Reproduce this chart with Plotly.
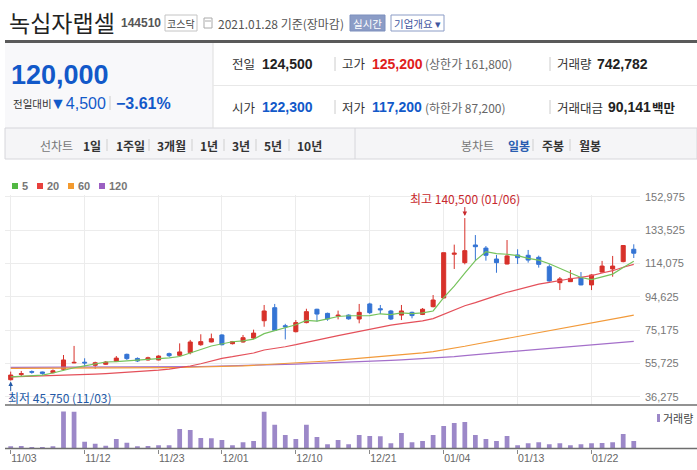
import plotly.graph_objects as go

# ---------------- data ----------------
dates = ["11/03","11/04","11/05","11/06","11/09","11/10","11/11","11/12","11/13","11/16",
         "11/17","11/18","11/19","11/20","11/23","11/24","11/25","11/26","11/27","11/30",
         "12/01","12/02","12/03","12/04","12/07","12/08","12/09","12/10","12/11","12/14",
         "12/15","12/16","12/17","12/18","12/21","12/22","12/23","12/24","12/28","12/29",
         "12/30","01/04","01/05","01/06","01/07","01/08","01/11","01/12","01/13","01/14",
         "01/15","01/18","01/19","01/20","01/21","01/22","01/25","01/26","01/27","01/28"]

open_ = [46200, 49300, 50900, 50700, 50300, 52300, 56000, 56400, 54600, 55200,
         56900, 61000, 58600, 57700, 57700, 61400, 60400, 62000, 66600, 68200,
         72300, 67200, 68200, 70500, 80600, 88200, 77700, 74200, 79500, 87300,
         84900, 83300, 83900, 81600, 90400, 87600, 86300, 83900, 85500, 84300,
         88800, 93900, 119400, 114500, 124800, 123000, 116600, 113700, 119000, 118800,
         117600, 112100, 102800, 103400, 105900, 101500, 109000, 110800, 115100, 122300]
close = [48900, 49700, 50600, 49900, 51400, 57700, 56300, 56000, 56100, 56500,
         58800, 58500, 57100, 59000, 60000, 60200, 62400, 68200, 68400, 70100,
         66600, 68400, 70700, 73400, 86300, 75000, 77100, 79500, 85900, 84500,
         81600, 83800, 81700, 85500, 85300, 87000, 81600, 86300, 83600, 87300,
         92700, 120300, 120000, 121500, 123800, 118800, 114500, 118400, 117400, 116000,
         113500, 103800, 105000, 105300, 101500, 107300, 112500, 112500, 124500, 120000]
high = [50900, 51300, 51600, 50900, 52200, 60600, 65900, 58700, 56700, 57100,
        60000, 61400, 59200, 59600, 60400, 62000, 67400, 69400, 72700, 73100,
        72700, 68800, 72300, 75400, 89800, 90400, 78800, 81000, 87600, 87600,
        85300, 86500, 84300, 90400, 91100, 89800, 86900, 89800, 85900, 88000,
        95600, 120300, 125000, 140500, 130600, 124200, 119000, 127700, 122300, 121900,
        118600, 113500, 106100, 110200, 109000, 107700, 115500, 118400, 124700, 125200]
low = [45750, 48000, 49700, 49100, 49900, 51700, 55800, 53800, 52600, 54800,
       56500, 57700, 56500, 57300, 57500, 59400, 60000, 61000, 66000, 68000,
       66200, 66800, 67800, 69900, 77100, 74600, 69700, 73800, 79100, 80100,
       80600, 81400, 81200, 79100, 84500, 84500, 81000, 81000, 82000, 83900,
       88400, 93500, 110800, 113500, 115500, 115650, 108600, 113500, 113700, 114500,
       111600, 103400, 98500, 103200, 101300, 98500, 108600, 106300, 114700, 117200]

volume = [236000, 243000, 135000, 140000, 236000, 3714000, 3700000, 675000, 473000, 270000,
          945000, 574000, 236000, 240000, 338000, 335000, 1958000, 1857000, 1047000, 1040000,
          844000, 338000, 641000, 743000, 3710000, 2397000, 1350000, 945000, 2390000, 1148000,
          439000, 844000, 439000, 1350000, 1249000, 1245000, 540000, 1553000, 641000, 743000,
          1350000, 2262000, 2566000, 2667000, 1350000, 945000, 743000, 1249000, 338000, 540000,
          641000, 439000, 540000, 338000, 439000, 540000, 545000, 641000, 1452000, 742782]

ma5 = [47800, 48100, 48500, 48900, 50100, 51860, 53180, 54260, 55500, 56520,
       56740, 57180, 57400, 57980, 58680, 58960, 59740, 61960, 63840, 65860,
       67140, 68340, 68840, 69840, 73080, 74760, 76500, 78260, 80760, 80400,
       81720, 83060, 83500, 83420, 83580, 84660, 84220, 85140, 84760, 85160,
       86300, 94040, 100780, 108360, 115660, 120880, 119720, 119400, 118580, 117020,
       115960, 113820, 111140, 108720, 105820, 104580, 106320, 107820, 111660, 115360]
ma20 = [47900, 48050, 48200, 48350, 48500, 48700, 48900, 49150, 49400, 49700,
        50050, 50400, 50800, 51250, 51750, 52400, 53200, 54200, 55500, 57000,
        58680, 59610, 60620, 61790, 63540, 64400, 65440, 66620, 68110, 69510,
        70650, 71910, 73140, 74470, 75730, 77070, 78030, 78940, 79700, 80560,
        81860, 84460, 86920, 89330, 91200, 93390, 95260, 97210, 98780, 100360,
        101950, 102950, 104120, 105110, 105920, 106930, 108480, 109790, 111830, 113470]
ma60 = [52800, 52800, 52800, 52800, 52800, 52800, 52800, 52800, 52850, 52900,
        52900, 52950, 53000, 53000, 53100, 53200, 53300, 53400, 53500, 53700,
        53900, 54100, 54300, 54600, 54900, 55200, 55500, 55900, 56300, 56700,
        57100, 57600, 58100, 58600, 59100, 59600, 60100, 60700, 61300, 61900,
        62600, 63500, 64600, 65700, 66900, 68000, 69100, 70300, 71400, 72500,
        73600, 74800, 75900, 77000, 78100, 79300, 80400, 81500, 82700, 83900]
ma120 = [53400, 53400, 53400, 53400, 53400, 53400, 53400, 53400, 53450, 53500,
         53500, 53500, 53550, 53600, 53600, 53650, 53700, 53800, 53900, 54000,
         54100, 54300, 54400, 54600, 54800, 54900, 55100, 55300, 55500, 55700,
         55900, 56100, 56300, 56600, 56900, 57200, 57500, 57800, 58100, 58400,
         58800, 59200, 59700, 60300, 60800, 61300, 61800, 62400, 62900, 63400,
         63900, 64400, 65000, 65500, 66000, 66500, 67000, 67500, 68100, 68600]

price_ticks = [36275, 55725, 75175, 94625, 114075, 133525, 152975]
date_tick_idx = [0, 7, 14, 20, 27, 34, 41, 48, 55]
ma_names = ["5", "20", "60", "120"]

# ---------------- style ----------------
W, H = 697, 470
FONT = "Liberation Sans, Noto Sans CJK KR, sans-serif"
KFONT = "Noto Sans CJK KR, Liberation Sans, sans-serif"
RED = "#d7312a"
BLUE = "#3474d4"
VOLC = "#9c88c8"
MA_COLORS = ["#76c35c", "#e4505a", "#f29a3a", "#a46fca"]
LEG_COLORS = ["#52b843", "#e8403c", "#f39a2e", "#9b5fc2"]
NUMBLUE = "#1259c9"

def px(x):
    return x / W

def py(y):
    return 1 - y / H

xs = list(range(len(dates)))

fig = go.Figure()
fig.add_trace(go.Bar(x=xs, y=volume, xaxis="x2", yaxis="y2", width=0.45,
                     marker=dict(color=VOLC, line=dict(width=0)), hoverinfo="skip"))
for name, vals, col in zip(ma_names[::-1], [ma120, ma60, ma20, ma5], MA_COLORS[::-1]):
    fig.add_trace(go.Scatter(x=xs, y=vals, mode="lines", name=name,
                             line=dict(color=col, width=1.2), hoverinfo="skip"))
fig.add_trace(go.Candlestick(x=xs, open=open_, high=high, low=low, close=close,
                             increasing=dict(line=dict(color=RED, width=1), fillcolor=RED),
                             decreasing=dict(line=dict(color=BLUE, width=1), fillcolor=BLUE),
                             whiskerwidth=0, hoverinfo="skip"))

shapes = []
ann = []

def rect(x0, y0, x1, y1, fill=None, line=None, lw=1):
    shapes.append(dict(type="rect", xref="paper", yref="paper", x0=px(x0), x1=px(x1),
                       y0=py(y1), y1=py(y0), fillcolor=fill or "rgba(0,0,0,0)",
                       line=dict(color=line or "rgba(0,0,0,0)", width=lw if line else 0),
                       layer="below"))

def hline(x0, x1, y, color, w=1):
    shapes.append(dict(type="line", xref="paper", yref="paper", x0=px(x0), x1=px(x1),
                       y0=py(y), y1=py(y), line=dict(color=color, width=w)))

def vline(x, y0, y1, color, w=1):
    shapes.append(dict(type="line", xref="paper", yref="paper", x0=px(x), x1=px(x),
                       y0=py(y0), y1=py(y1), line=dict(color=color, width=w)))

def txt(x, y, s, size, color, bold=False, anchor="left", family=KFONT):
    ann.append(dict(x=px(x), y=py(y), xref="paper", yref="paper", showarrow=False,
                    text=("<b>%s</b>" % s) if bold else s, xanchor=anchor, yanchor="middle",
                    font=dict(size=size, color=color, family=family), borderpad=0))

# ---- header ----
txt(8, 22, "녹십자랩셀", 23, "#222")
txt(120, 23, "144510", 12, "#555", bold=True, family=FONT)
rect(165, 15, 197, 31, fill="#fff", line="#c4c4c4")
txt(181, 23, "코스닥", 10, "#444", anchor="center")
rect(204, 18, 212, 28, fill="#fff", line="#aaa")
hline(205, 211, 21, "#aaa")
txt(217, 23, "2021.01.28 기준(장마감)", 12, "#555")
rect(350, 15, 385, 31, fill="#8b9cc6", line="#7d8fbd")
txt(367.5, 23, "실시간", 10.5, "#fff", anchor="center")
rect(391, 15, 444, 31, fill="#fff", line="#8b9cc6")
txt(417.5, 23, "기업개요 ▾", 10.5, "#3f56a0", anchor="center")

rect(5, 40, 697, 43, fill="#5a5a5a")
rect(5, 43, 213, 128, fill="#f8f8fa")
vline(213, 43, 128, "#dedede")
hline(213, 697, 85.5, "#e8e8e8")

txt(10, 75, "120,000", 27, NUMBLUE, bold=True, family=FONT)
txt(12, 103, "전일대비", 10.5, "#333")
txt(49, 103, "▼4,500", 16, NUMBLUE, family=FONT)
vline(110, 96, 110, "#cccccc")
txt(115, 103, "−3.61%", 16, NUMBLUE, bold=True, family=FONT)

for yy, items in [(64, [("전일", "124,500", "#222", None),
                        ("고가", "125,200", "#e0201c", "(상한가 161,800)"),
                        ("거래량", "742,782", "#222", None)]),
                  (107, [("시가", "122,300", NUMBLUE, None),
                         ("저가", "117,200", NUMBLUE, "(하한가 87,200)"),
                         ("거래대금", "90,141", "#222", "백만")])]:
    xl = [231, 341, 556]
    xv = [261, 371, 596]
    for k, (lab, val, col, extra) in enumerate(items):
        txt(xl[k], yy, lab, 12.5, "#333")
        vx = xv[k] if lab != "거래대금" else 607
        txt(vx, yy, val, 14, col, bold=True, family=FONT)
        if extra:
            if lab == "거래대금":
                txt(651, yy, extra, 12.5, "#222", bold=True)
            else:
                txt(424, yy, extra, 12, "#666")
    vline(335, yy - 7, yy + 7, "#cccccc")
    vline(550, yy - 7, yy + 7, "#cccccc")

# ---- tab bar ----
rect(5, 128, 697, 159, fill="#f5f5f7", line="#d6d6db")
vline(355, 128, 159, "#d6d6db")
txt(39, 145, "선차트", 12, "#777")
tabs = [("1일", 82), ("1주일", 115), ("3개월", 156), ("1년", 199), ("3년", 231), ("5년", 263), ("10년", 296)]
for k, (s, x) in enumerate(tabs):
    txt(x, 145, s, 12, "#333", bold=True)
for x in [107, 149, 192, 224, 256, 289, 533, 570]:
    vline(x, 139, 151, "#cfcfcf")
txt(460, 145, "봉차트", 12, "#777")
txt(507, 145, "일봉", 12, "#2a5db0", bold=True)
txt(541, 145, "주봉", 12, "#333", bold=True)
txt(578, 145, "월봉", 12, "#333", bold=True)

# ---- MA legend ----
for name, col, x0 in zip(ma_names, LEG_COLORS, [12, 37, 68, 99]):
    rect(x0, 183, x0 + 6, 189, fill=col)
    txt(x0 + 9, 186, name, 11, "#777", bold=True, family=FONT)

# ---- panel lines ----
hline(5, 697, 405, "#6e6e6e", 1.3)
hline(5, 697, 448.5, "#6e6e6e", 1.3)
rect(657, 414, 660, 422, fill=VOLC)
txt(662, 418, "거래량", 11, "#444")

# ---- high / low marks ----
hi_i = high.index(max(high))
lo_i = low.index(min(low))
ann.append(dict(x=hi_i, y=high[hi_i], xref="x", yref="y", showarrow=True,
                text="최고 %s (%s)" % (format(high[hi_i], ","), dates[hi_i]),
                ax=0, ay=-20, arrowhead=2, arrowsize=0.9, arrowwidth=1, arrowcolor="#c8282d",
                standoff=2, font=dict(size=12, color="#c8282d", family=KFONT), borderpad=0))
ann.append(dict(x=lo_i, y=low[lo_i], xref="x", yref="y", showarrow=True, text=" ",
                ax=0, ay=12, arrowhead=2, arrowsize=0.9, arrowwidth=1, arrowcolor="#2359a6",
                standoff=1, font=dict(size=2, color="#2359a6"), borderpad=0))
txt(7, 397, "최저 %s (%s)" % (format(low[lo_i], ","), dates[lo_i]), 12, "#2359a6")

# ---------------- axes ----------------
xr = [-0.54, 59.59]
xdom = [px(5), px(640)]
ydom = [py(405), py(195)]
yr = [31432, 153967]

fig.update_layout(
    width=W, height=H, margin=dict(l=0, r=0, t=0, b=0),
    paper_bgcolor="white", plot_bgcolor="white", showlegend=False,
    template="none", boxgap=0.45,
    font=dict(family=FONT, size=11, color="#666"),
    xaxis=dict(domain=xdom, range=xr, anchor="y", showticklabels=False, showgrid=True,
               gridcolor="#ececec", gridwidth=1, tickvals=date_tick_idx, zeroline=False,
               showline=False, ticks="", rangeslider=dict(visible=False), fixedrange=True),
    yaxis=dict(domain=ydom, range=yr, anchor="x", side="right", tickvals=price_ticks,
               ticktext=[format(v, ",") for v in price_ticks], showgrid=True,
               gridcolor="#ececec", gridwidth=1, zeroline=False, showline=False, ticks="",
               tickfont=dict(size=11, color="#777", family=FONT), ticklabelstandoff=4,
               automargin=False, fixedrange=True),
    xaxis2=dict(domain=xdom, range=xr, anchor="y2", matches="x", tickvals=date_tick_idx,
                ticktext=[dates[i] for i in date_tick_idx], ticks="outside", ticklen=4,
                tickcolor="#888", ticklabelposition="outside right", showgrid=False,
                zeroline=False, showline=False,
                tickfont=dict(size=10.5, color="#666", family=FONT), automargin=False),
    yaxis2=dict(domain=[py(448.5), py(405)], range=[0, 4380000], anchor="x2",
                showticklabels=False, showgrid=False, zeroline=False, showline=False,
                automargin=False),
    shapes=shapes, annotations=ann,
)

fig.write_html("out.html")
